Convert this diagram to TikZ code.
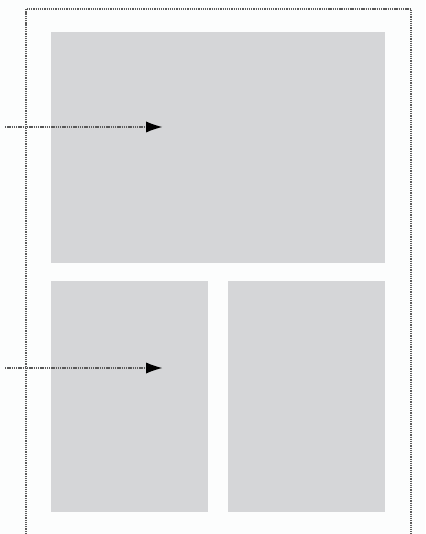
\documentclass[tikz,border=0pt]{standalone}
\usetikzlibrary{arrows.meta}
\definecolor{bgc}{HTML}{FCFDFD}
\definecolor{panel}{HTML}{D5D6D8}
\definecolor{dotc}{HTML}{5A5A5A}
\begin{document}
\begin{tikzpicture}[x=1pt,y=-1pt,
  panelbox/.style={fill=panel,draw=none},
  dotline/.style={draw=dotc,line width=1.1pt,dash pattern=on 1.3pt off 0.9pt},
  ptr/.style={dotline,-{Latex[length=16pt,width=11pt,color=black,fill=black,line width=0pt]}}]
\fill[bgc] (0,0) rectangle (425,534);
\useasboundingbox (0,0) rectangle (425,534);
\draw[dotline] (26,534) -- (26,9) -- (411,9) -- (411,534);
\node[panelbox,minimum width=334pt,minimum height=231pt,anchor=north west,inner sep=0pt] (top) at (51,32) {};
\node[panelbox,minimum width=157pt,minimum height=231pt,anchor=north west,inner sep=0pt] (bl) at (51,281) {};
\node[panelbox,minimum width=157pt,minimum height=231pt,anchor=north west,inner sep=0pt] (br) at (228,281) {};
\coordinate (s1) at (5,127);
\coordinate (t1) at (162,127);
\coordinate (s2) at (5,368);
\coordinate (t2) at (162,368);
\draw[ptr] (s1) -- (t1);
\draw[ptr] (s2) -- (t2);
\end{tikzpicture}
\end{document}
